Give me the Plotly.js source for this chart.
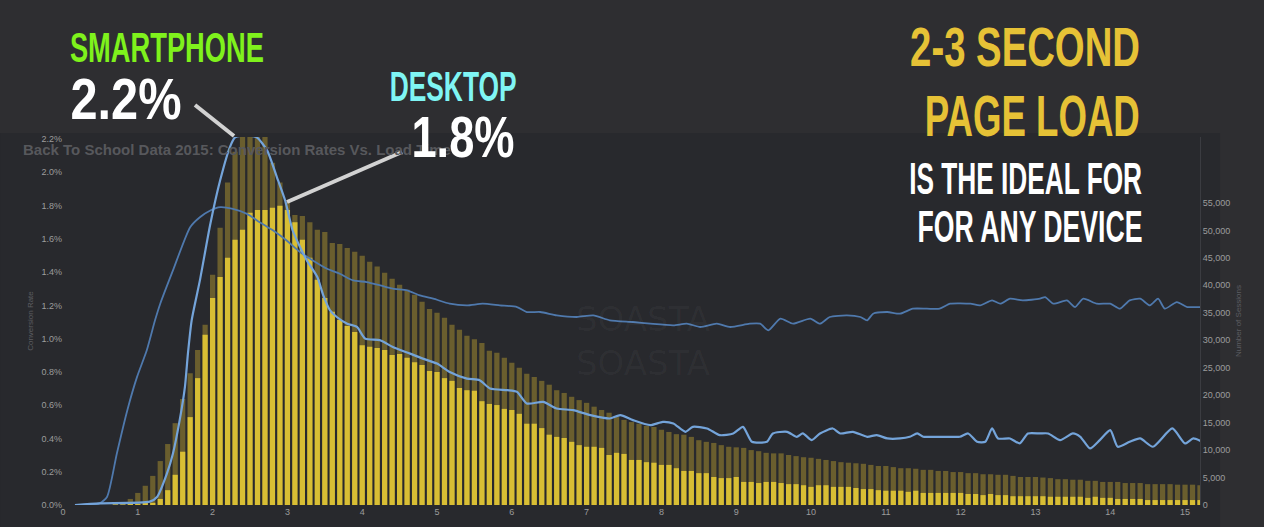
<!DOCTYPE html>
<html>
<head>
<meta charset="utf-8">
<script src="https://cdn.plot.ly/plotly-3.0.1.min.js"></script>
<style>
  html, body { margin: 0; padding: 0; background: #2e2e31; }
  #chart { width: 1264px; height: 527px; }
</style>
</head>
<body>
<div id="chart"></div>
<script>
// ---------- DATA ----------
// Load-time bins (seconds), 0.1 s wide, first bin 0.7 s
const binStart = 0.7;
const binStep = 0.1;

// Number of sessions per load-time bin (taller, darker overlay)
const sessionsA = [
  200, 500, 1100,
  2200, 3500, 5300, 8000, 11100, 14900, 19300, 24000, 28200, 32800,
  41900, 50500, 58700, 64300, 69000, 70500, 70000, 68500, 62300, 58700,
  55200, 52800, 52600, 51500, 50100, 49700, 47700, 47500, 46800, 46100,
  45400, 44300, 43400, 42300, 41200, 40100, 39200, 38300, 37000, 35700,
  35000, 34100, 32800, 31900, 30800, 30200, 29500, 28100, 27700, 26800,
  25900, 25000, 23900, 23300, 22600, 21900, 20900, 20400, 19700, 19100,
  18600, 17900, 17300, 16800, 16000, 15500, 15100, 14800, 14400, 14200,
  13700, 13300, 12900, 12800, 12400, 11800, 11500, 11300, 10900, 10600,
  10500, 10400, 10000, 9800, 9500, 9400, 9400, 9100, 8900, 8700,
  8600, 8400, 8200, 8000, 7800, 7700, 7600, 7500, 7300, 7100,
  7100, 6900, 6700, 6700, 6600, 6400, 6400, 6200, 6200, 6000,
  6000, 5800, 5800, 5600, 5600, 5500, 5500, 5300, 5100, 5100,
  5100, 5000, 4900, 4700, 4700, 4600, 4600, 4400, 4400, 4200,
  4200, 4200, 4000, 4000, 4000, 3800, 3800, 3800, 3800, 3700,
  3700, 3700, 3600
];

// Number of sessions per load-time bin (bright overlay)
const sessionsB = [
  100, 100, 200,
  200, 400, 400, 1100, 2700, 5500, 9700, 16000, 23100, 31000,
  37700, 41500, 45000, 48300, 50100, 53200, 53700, 53700, 54100, 54500,
  53700, 51500, 48300, 45000, 41000, 37700, 35200, 33700, 32600, 31500,
  29100, 28800, 28600, 28200, 27300, 27500, 26800, 26000, 25500, 24400,
  24200, 23100, 22600, 21300, 20900, 20800, 18900, 18400, 18200, 17500,
  17300, 16600, 14800, 14800, 14000, 12800, 12400, 12200, 11500, 10900,
  10600, 10600, 10400, 9100, 9500, 9300, 8200, 8200, 7800, 7700,
  7300, 7300, 6700, 6200, 6200, 5800, 5800, 5100, 4900, 4900,
  5100, 4200, 4200, 4000, 4200, 4200, 4000, 3800, 3800, 3600,
  3300, 3600, 3600, 3300, 3300, 3300, 3100, 2900, 2900, 2700,
  2600, 2600, 2600, 2400, 2600, 2200, 2200, 2200, 2200, 2200,
  2200, 2000, 2000, 1800, 2000, 1800, 1800, 1600, 1600, 1600,
  1600, 1600, 1500, 1500, 1500, 1500, 1500, 1300, 1500, 1300,
  1300, 1100, 1100, 1100, 1100, 900, 900, 900, 900, 900,
  900, 900, 900
];

// Smartphone conversion rate (%) vs load time (s)
const smartX = [0.16,0.49,1.16,1.26,1.39,1.47,1.56,1.63,1.67,1.72,1.83,1.97,2.10,2.23,2.30,2.45,2.59,2.73,2.86,2.97,
  3.07,3.17,3.26,3.40,3.48,3.57,3.66,3.80,3.93,4.04,4.24,4.41,4.64,4.81,5.00,5.17,5.40,5.57,5.71,5.94,
  6.07,6.20,6.42,6.60,6.82,7.05,7.31,7.45,7.62,7.85,8.02,8.16,8.32,8.42,8.61,8.78,8.96,9.09,9.21,9.41,
  9.49,9.68,9.81,9.89,10.01,10.12,10.29,10.39,10.56,10.75,10.88,11.02,11.19,11.32,11.42,11.50,11.63,11.82,11.99,12.10,
  12.22,12.33,12.42,12.50,12.66,12.79,12.90,13.06,13.17,13.33,13.50,13.60,13.73,13.86,14.00,14.10,14.26,14.40,14.57,14.83,
  15.00,15.11,15.23];
const smartY = [0.00,0.01,0.02,0.05,0.19,0.31,0.51,0.71,0.91,1.11,1.35,1.69,1.95,2.15,2.21,2.22,2.21,2.13,1.97,1.83,
  1.65,1.55,1.47,1.37,1.26,1.17,1.13,1.09,1.07,1.00,0.99,0.95,0.91,0.88,0.85,0.80,0.76,0.75,0.70,0.69,
  0.68,0.61,0.62,0.58,0.57,0.54,0.52,0.54,0.51,0.48,0.50,0.49,0.44,0.47,0.46,0.42,0.43,0.47,0.38,0.38,
  0.43,0.44,0.41,0.43,0.39,0.43,0.46,0.43,0.44,0.41,0.42,0.40,0.40,0.41,0.43,0.41,0.41,0.41,0.41,0.43,
  0.38,0.38,0.46,0.40,0.40,0.37,0.43,0.43,0.43,0.39,0.43,0.41,0.34,0.39,0.45,0.35,0.38,0.40,0.35,0.46,
  0.37,0.40,0.38];

// Desktop conversion rate (%) vs load time (s)
const deskX = [0.16,0.49,0.59,0.72,0.86,0.99,1.12,1.23,1.30,1.47,1.70,1.83,1.97,2.10,2.27,2.46,2.63,2.81,2.99,3.17,
  3.34,3.53,3.70,3.88,4.06,4.24,4.41,4.60,4.77,4.95,5.17,5.40,5.61,5.84,6.07,6.20,6.38,6.60,6.87,7.09,
  7.31,7.62,7.85,8.16,8.34,8.52,8.74,8.92,9.18,9.32,9.43,9.59,9.76,9.99,10.12,10.25,10.48,10.66,10.75,10.83,
  11.02,11.19,11.36,11.55,11.72,11.86,12.13,12.26,12.42,12.53,12.66,12.83,13.06,13.13,13.24,13.42,13.53,13.64,13.82,14.00,
  14.13,14.26,14.40,14.53,14.64,14.73,14.89,15.03,15.13,15.23];
const deskY = [0.00,0.01,0.05,0.31,0.57,0.77,0.93,1.11,1.21,1.41,1.67,1.73,1.77,1.79,1.78,1.75,1.70,1.65,1.59,1.52,
  1.47,1.42,1.39,1.35,1.34,1.32,1.30,1.29,1.26,1.24,1.21,1.20,1.21,1.20,1.19,1.16,1.16,1.14,1.13,1.14,
  1.11,1.10,1.09,1.08,1.09,1.07,1.09,1.07,1.09,1.09,1.05,1.12,1.09,1.12,1.09,1.13,1.14,1.13,1.11,1.15,
  1.16,1.15,1.18,1.18,1.18,1.21,1.21,1.20,1.23,1.21,1.24,1.23,1.24,1.25,1.21,1.23,1.19,1.24,1.21,1.21,
  1.18,1.23,1.24,1.20,1.24,1.18,1.22,1.19,1.19,1.19];

const xTickVals = [0,1,2,3,4,5,6,7,8,9,10,11,12,13,14,15];
const sessionTicks = [0,5000,10000,15000,20000,25000,30000,35000,40000,45000,50000,55000];

const chartTitle = 'Back To School Data 2015: Conversion Rates Vs. Load Time';
const watermark = 'SOASTA<br>SOASTA';
const calloutTexts = ['SMARTPHONE', '2.2%', 'DESKTOP', '1.8%', '2-3 SECOND', 'PAGE LOAD', 'IS THE IDEAL FOR', 'FOR ANY DEVICE'];

// ---------- BUILD ----------
const bins = sessionsA.map((_, i) => +(binStart + i * binStep).toFixed(1));

const traces = [
  { type: 'bar', x: bins, y: sessionsA, width: 0.07, marker: { color: '#6a5e2e' }, name: 'Sessions', yaxis: 'y', hoverinfo: 'skip' },
  { type: 'bar', x: bins, y: sessionsB, width: 0.07, marker: { color: '#d8be34' }, name: 'Sessions', yaxis: 'y', hoverinfo: 'skip' },
  { type: 'scatter', mode: 'lines', x: deskX, y: deskY, yaxis: 'y2', name: 'Desktop',
    line: { color: '#4f79ad', width: 1.8, shape: 'spline', smoothing: 0.6 } },
  { type: 'scatter', mode: 'lines', x: smartX, y: smartY, yaxis: 'y2', name: 'Smartphone',
    line: { color: '#74a4da', width: 2.2, shape: 'spline', smoothing: 0.6 } }
];

const BIG = 'Liberation Sans, Arial, sans-serif';
// callouts: drawn with a condensed look (target width w, cap-height size s)
function callout(i, x, y, size, color, w) {
  return { text: calloutTexts[i], xref: 'paper', yref: 'paper', x: x, y: y, xanchor: 'center', yanchor: 'middle',
    showarrow: false, font: { family: BIG, size: size, color: color, weight: 'bold' }, _w: w };
}

const annos = [
  { text: chartTitle, xref: 'paper', yref: 'paper', x: -0.0369, y: 0.9647, xanchor: 'left', yanchor: 'middle',
    showarrow: false, font: { family: 'Liberation Sans, Arial, sans-serif', size: 15, color: '#57585c', weight: 'bold' } },
  { text: watermark, xref: 'paper', yref: 'paper', x: 0.51, y: 0.4457, showarrow: false,
    font: { family: 'DejaVu Sans, sans-serif', size: 34, color: 'rgba(255,255,255,0.035)' } },
  callout(0, 0.0915, 1.2446, 43, '#7ff21c', 194),
  callout(1, 0.0558, 1.1046, 57, '#ffffff', 111),
  callout(2, 0.3426, 1.1359, 42, '#7ff5f4', 127),
  callout(3, 0.3514, 1.0000, 57, '#ffffff', 103),
  callout(4, 0.8461, 1.2446, 56, '#e6c236', 230),
  callout(5, 0.8527, 1.0530, 57, '#e6c236', 215),
  callout(6, 0.8465, 0.8859, 45, '#ffffff', 233),
  callout(7, 0.8505, 0.7568, 45, '#ffffff', 225)
];
const fitWidths = annos.map(a => a._w || 0);
annos.forEach(a => delete a._w);

const axisFont = { family: 'Liberation Sans, Arial, sans-serif', size: 9, color: '#9c9c9c' };

const layout = {
  width: 1264, height: 527,
  margin: { l: 63, r: 64, t: 137, b: 22, pad: 0 },
  paper_bgcolor: '#2e2e31',
  plot_bgcolor: 'rgba(0,0,0,0)',
  showlegend: false,
  barmode: 'overlay',
  xaxis: { range: [0, 15.2], tickvals: xTickVals, showgrid: false, zeroline: false, showline: false,
    ticks: '', tickfont: axisFont },
  yaxis: { side: 'right', range: [0, 67000], tickvals: sessionTicks, tickformat: ',', showgrid: false,
    zeroline: false, showline: true, linecolor: '#3b3c41', linewidth: 1, ticks: '', tickfont: axisFont,
    title: { text: 'Number of Sessions', font: { family: 'Liberation Sans, Arial, sans-serif', size: 8, color: '#5c5d61' }, standoff: 6 } },
  yaxis2: { overlaying: 'y', side: 'left', range: [0, 2.212], dtick: 0.2, tick0: 0, tickformat: '.1f', ticksuffix: '%',
    showgrid: false, zeroline: false, showline: false, ticks: '', tickfont: axisFont,
    title: { text: 'Conversion Rate', font: { family: 'Liberation Sans, Arial, sans-serif', size: 8, color: '#5c5d61' }, standoff: 6 } },
  annotations: annos,
  shapes: [
    { type: 'rect', xref: 'paper', yref: 'paper', x0: -0.0554, x1: 1.0176, y0: -0.06, y1: 1.0109,
      fillcolor: '#28292d', line: { width: 0 }, layer: 'below' },
    { type: 'line', xref: 'paper', yref: 'paper', x0: 0.1161, y0: 1.0870, x1: 0.1504, y1: 1.0027,
      line: { color: '#d2d2d2', width: 4 } },
    { type: 'line', xref: 'paper', yref: 'paper', x0: 0.2982, y0: 0.9592, x1: 0.1970, y1: 0.8234,
      line: { color: '#d2d2d2', width: 4 } }
  ]
};

Plotly.newPlot('chart', traces, layout, { staticPlot: true, displayModeBar: false }).then(gd => {
  // Give the big callout texts a condensed look: shrink the font until the text has the
  // reference width, then stretch it vertically back to the reference letter height.
  gd.querySelectorAll('g.annotation').forEach(g => {
    const i = +g.getAttribute('data-index');
    const w = fitWidths[i];
    if (!w) return;
    const t = g.querySelector('text.annotation-text');
    if (!t) return;
    const b0 = t.getBBox();
    const cx = b0.x + b0.width / 2, cy0 = b0.y + b0.height / 2;
    const s0 = parseFloat(t.style.fontSize) || annos[i].font.size;
    const w0 = t.getComputedTextLength();
    const s1 = s0 * w / w0;
    t.style.fontSize = s1 + 'px';
    const b1 = t.getBBox();
    const cy1 = b1.y + b1.height / 2;
    const sy = s0 / s1;
    t.setAttribute('transform', 'translate(' + cx + ',' + cy0 + ') scale(1,' + sy + ') translate(' + (-cx) + ',' + (-cy1) + ')');
  });
});
</script>
</body>
</html>
